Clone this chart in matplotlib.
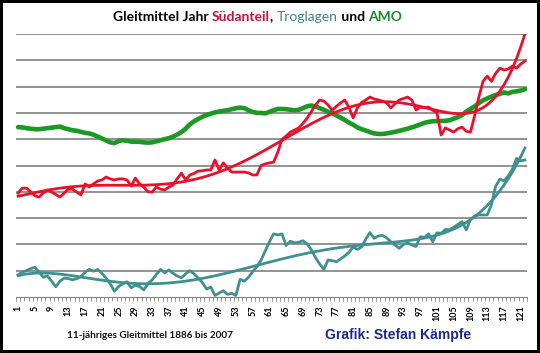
import numpy as np
import matplotlib.pyplot as plt

# 11-jaehriges Gleitmittel, Jahre 1886 (=1) bis 2007 (=122)
jahre = np.arange(1, 123)

suedanteil = [
    3.95, 4.14, 4.14, 4.00, 3.85, 3.80, 3.95, 4.07, 3.99, 3.90,
    3.80, 3.95, 4.11, 4.10, 3.99, 3.88, 4.30, 4.18, 4.30, 4.41,
    4.45, 4.56, 4.49, 4.45, 4.49, 4.49, 4.45, 4.22, 4.52, 4.30,
    4.18, 4.00, 3.99, 4.18, 4.10, 4.07, 4.18, 4.26, 4.50, 4.71,
    4.45, 4.64, 4.70, 4.79, 4.80, 4.83, 4.83, 5.21, 4.83, 5.10,
    4.90, 4.75, 4.75, 4.75, 4.75, 4.72, 4.64, 4.64, 5.00, 5.06,
    5.10, 5.13, 5.50, 6.00, 6.12, 6.27, 6.35, 6.43, 6.60, 6.80,
    7.05, 7.30, 7.49, 7.45, 7.30, 7.10, 7.25, 7.38, 7.49, 7.20,
    6.81, 7.19, 7.40, 7.49, 7.60, 7.53, 7.49, 7.45, 7.38, 7.19,
    7.35, 7.49, 7.55, 7.60, 7.49, 7.11, 7.22, 7.20, 7.22, 7.10,
    7.00, 6.16, 6.43, 6.35, 6.27, 6.40, 6.46, 6.30, 6.27, 6.90,
    7.60, 8.20, 8.40, 8.20, 8.50, 8.70, 8.63, 8.67, 8.78, 8.70,
    8.86, 8.97]

troglagen = [
    0.84, 0.95, 1.00, 1.08, 1.13, 0.95, 0.75, 0.80, 0.60, 0.39,
    0.60, 0.72, 0.70, 0.65, 0.70, 0.77, 0.95, 1.05, 0.98, 1.05,
    0.90, 0.72, 0.50, 0.22, 0.40, 0.50, 0.58, 0.35, 0.45, 0.40,
    0.27, 0.50, 0.65, 0.85, 1.05, 0.92, 1.03, 0.90, 0.80, 0.73,
    0.88, 1.00, 0.88, 0.72, 0.55, 0.30, 0.38, 0.06, 0.15, 0.24,
    0.10, 0.14, 0.06, 0.67, 0.60, 0.75, 0.96, 1.15, 1.40, 1.75,
    2.10, 2.40, 2.36, 2.40, 1.96, 2.12, 2.06, 2.08, 2.14, 2.02,
    1.80, 1.50, 1.25, 1.05, 1.41, 1.38, 1.34, 1.45, 1.56, 1.70,
    1.90, 1.81, 1.90, 2.20, 2.45, 2.23, 2.32, 2.34, 2.25, 2.10,
    1.98, 1.85, 2.00, 2.06, 1.98, 1.92, 2.29, 2.27, 2.40, 2.10,
    2.44, 2.42, 2.57, 2.56, 2.65, 2.76, 2.86, 2.55, 2.95, 3.08,
    3.12, 3.12, 3.12, 3.50, 4.20, 4.48, 4.42, 4.60, 4.85, 5.27,
    5.18, 5.21]

amo = [
    6.46, 6.45, 6.42, 6.40, 6.38, 6.38, 6.40, 6.42, 6.44, 6.46,
    6.48, 6.42, 6.38, 6.34, 6.32, 6.28, 6.24, 6.22, 6.17, 6.10,
    6.03, 5.95, 5.88, 5.85, 5.93, 5.96, 5.94, 5.91, 5.90, 5.90,
    5.88, 5.87, 5.88, 5.92, 5.96, 6.00, 6.04, 6.10, 6.18, 6.27,
    6.40, 6.56, 6.68, 6.77, 6.85, 6.92, 6.97, 7.02, 7.05, 7.08,
    7.10, 7.14, 7.18, 7.20, 7.18, 7.10, 7.04, 7.00, 7.00, 6.98,
    7.04, 7.10, 7.15, 7.15, 7.14, 7.12, 7.10, 7.12, 7.18, 7.25,
    7.28, 7.25, 7.18, 7.12, 7.04, 7.00, 6.90, 6.82, 6.73, 6.63,
    6.55, 6.45, 6.38, 6.33, 6.27, 6.22, 6.20, 6.20, 6.22, 6.25,
    6.28, 6.32, 6.36, 6.40, 6.45, 6.50, 6.56, 6.62, 6.66, 6.68,
    6.69, 6.69, 6.70, 6.72, 6.78, 6.84, 6.92, 7.05, 7.15, 7.25,
    7.37, 7.48, 7.55, 7.62, 7.68, 7.72, 7.78, 7.74, 7.80, 7.82,
    7.85, 7.90]

tick_pos = list(range(1, 123, 4))
tick_labels = [str(i) for i in tick_pos]

ROT = "#E8102A"
TUERKIS = "#3F9090"
GRUEN = "#1A9A22"


def trend(y, deg=6):
    # polynomischer Trend wie in Excel
    p = np.polynomial.Polynomial.fit(jahre, y, deg)
    return p(jahre)


fig = plt.figure(figsize=(5.4, 3.53), dpi=100)
fig.patch.set_edgecolor("black")
fig.patch.set_linewidth(3)
ax = fig.add_axes([16 / 540, 1 - 297 / 353, 511 / 540, 263 / 353])

ax.plot(jahre, amo, color=GRUEN, lw=3.3, solid_capstyle="round")
ax.plot(jahre, trend(suedanteil), color=ROT, lw=2.0)
ax.plot(jahre, suedanteil, color=ROT, lw=2.0)
ax.plot(jahre, trend(troglagen), color=TUERKIS, lw=2.0)
ax.plot(jahre, troglagen, color=TUERKIS, lw=2.0)

ax.set_xlim(0.5, 122.5)
ax.set_ylim(0, 10)
ax.set_yticks(range(1, 11))
ax.set_yticklabels([])
ax.tick_params(axis="y", length=0)
ax.grid(axis="y", color="#808080", lw=1.2)
ax.set_axisbelow(True)

ax.set_xticks(tick_pos)
ax.set_xticklabels(tick_labels, rotation=90, fontsize=6.5, fontweight="bold",
                   family="Lato")
ax.set_xticks(np.arange(0.5, 123, 1), minor=True)
ax.tick_params(axis="x", which="major", length=0, pad=6)
ax.tick_params(axis="x", which="minor", length=3, color="#808080")
for s in ["left", "right", "top"]:
    ax.spines[s].set_visible(False)
ax.spines["bottom"].set_color("#808080")

# Titel in mehreren Farben, Stueck fuer Stueck aneinandergehaengt
teile = [("Gleitmittel Jahr ", "black", "bold"),
         ("Südanteil", "#C8103C", "bold"),
         (", ", "black", "bold"),
         ("Troglagen", "#3F8088", "normal"),
         (" und ", "black", "bold"),
         ("AMO", "#168A28", "bold")]
prev = fig.text(113 / 540, 1 - 21 / 353, teile[0][0], color=teile[0][1],
                fontweight=teile[0][2], fontsize=10, family="Lato",
                va="baseline")
for txt, col, w in teile[1:]:
    prev = ax.annotate(txt, xy=(1, 0), xycoords=prev, va="bottom",
                       color=col, fontweight=w, fontsize=10, family="Lato",
                       annotation_clip=False)

fig.text(67 / 540, 1 - 335 / 353, "11-jähriges Gleitmittel 1886 bis 2007",
         fontsize=7.2, fontweight="bold", family="Lato", va="center",
         color="#111111")
fig.text(325 / 540, 1 - 335 / 353, "Grafik: Stefan Kämpfe",
         fontsize=10, fontweight="bold", family="Liberation Sans",
         va="center", color="#1A2A8C")

fig.savefig("out.png", dpi=100, edgecolor=fig.get_edgecolor())
